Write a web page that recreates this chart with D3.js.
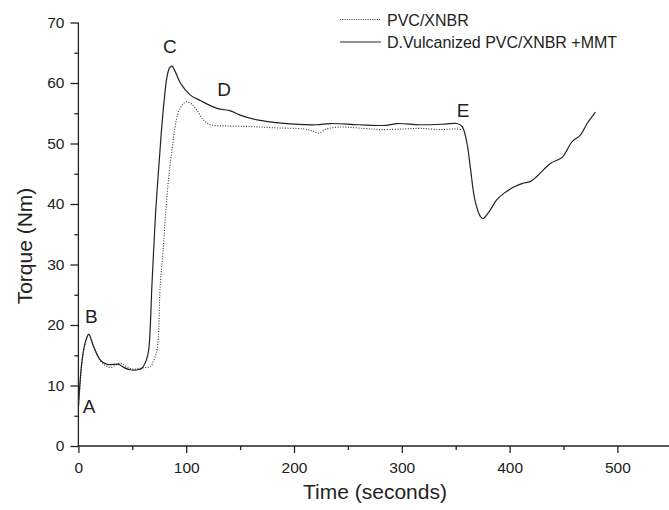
<!DOCTYPE html>
<html><head><meta charset="utf-8">
<script src="https://cdn.jsdelivr.net/npm/d3@7"></script>
<style>body{margin:0;background:#fff}svg{display:block}text{font-family:"Liberation Sans",Arial,sans-serif;fill:#222}</style>
</head><body><div id="chart"></div>
<script>
const seriesNames = ["PVC/XNBR", "D.Vulcanized PVC/XNBR +MMT"];
const pvcTime = [0,3.4,6.5,9.6,14.2,20.4,26,29.7,35,39,44,50,56,63.6,66.8,70,73,76,78.5,80.7,83.8,86.9,89.5,92,95,98,100.8,105,110,116,122.4,138,160,181,209,216.8,223,229,240,264.7,280,301.7,317,335,351,355];
const pvcTorque = [6,13.8,17,18.3,16.3,14.1,13.2,13.0,13.4,13.7,13.2,12.7,12.8,13.0,13.1,14.2,15.9,26.9,32,37.9,44.5,49,52.5,54.8,56,56.7,56.9,56.5,55.5,53.9,53.1,52.9,52.8,52.6,52.4,52.1,51.7,52.3,52.7,52.5,52.3,52.4,52.5,52.3,52.4,52.3];
const mmtTime = [0,3.4,6.5,9.6,14.2,20.4,26.6,37.4,42,48,55,59,63,65.2,68.3,71.4,74.5,77,79.5,82,84.5,86.9,90,94.6,103.9,113,128.7,141,150,165.8,181,200,221,234,260,286,295.6,317,340,351,356,360.5,363.6,368,373,375.4,382,388,395,403.9,412,419,425,437.8,448.7,458,465.7,471.9,479.6];
const mmtTorque = [6.5,14.2,17.2,18.5,16.4,14.2,13.5,13.5,13.0,12.6,12.6,12.9,14.2,15.9,26.9,37.9,46,52,57,60.8,62.5,62.8,61.8,60,58,57.1,55.8,55.4,54.7,53.9,53.5,53.2,53.1,53.3,53.1,53.0,53.3,53.1,53.2,53.3,52.8,50,46,40.5,37.9,37.6,39,40.7,41.8,42.8,43.4,43.7,44.5,46.7,47.7,50.3,51.4,53.3,55.2];
const xTicks = [0,100,200,300,400,500];
const yTicks = [0,10,20,30,40,50,60,70];
const pointLabels = ["A","B","C","D","E"];
const pointLabelAt = [[4,5.5],[6.1,20.3],[78.5,65],[128.9,57.9],[351,54.4]];

const W = 669, H = 510;
const svg = d3.select("#chart").append("svg").attr("width", W).attr("height", H);
const x = d3.scaleLinear().domain([0, 550]).range([78.4, 671.3]);
const y = d3.scaleLinear().domain([0, 70]).range([446, 22.5]);

const axisColor = "#222";
const font = '"Liberation Sans",Arial,sans-serif';
// minor ticks
svg.append("g").attr("transform", `translate(0,${y(0)})`)
  .call(d3.axisBottom(x).tickValues(d3.range(50, 551, 100)).tickSize(4).tickFormat(""))
  .call(g => g.select(".domain").remove());
svg.append("g").attr("transform", `translate(${x(0)},0)`)
  .call(d3.axisLeft(y).tickValues(d3.range(5, 70, 10)).tickSize(4).tickFormat(""))
  .call(g => g.select(".domain").remove());
// major axes
const gx = svg.append("g").attr("transform", `translate(0,${y(0)})`)
  .call(d3.axisBottom(x).tickValues(xTicks).tickSize(7).tickFormat(d3.format("d")));
gx.select(".domain").attr("d", `M${x(0)},0H${W}`);
gx.selectAll(".tick text").attr("y", 27).attr("dy", 0);
const gy = svg.append("g").attr("transform", `translate(${x(0)},0)`)
  .call(d3.axisLeft(y).tickValues(yTicks).tickSize(8).tickPadding(6));
gy.select(".domain").attr("d", `M0,${y(0)}V${y(70)}`);
svg.selectAll(".tick line, .domain").attr("stroke", axisColor).attr("stroke-width", 1.3);
svg.selectAll(".tick text").attr("font-size", 15.5).attr("fill", "#222").style("font-family", font);

// axis titles
svg.append("text").attr("x", 375).attr("y", 499).attr("text-anchor", "middle")
  .attr("font-size", 21).text("Time (seconds)");
svg.append("text").attr("transform", `translate(32,246) rotate(-90)`).attr("text-anchor", "middle")
  .attr("font-size", 21).text("Torque (Nm)");

// lines
const line = d3.line().x(d => x(d[0])).y(d => y(d[1])).curve(d3.curveCatmullRom.alpha(0.5));
const pvc = pvcTime.map((t, i) => [t, pvcTorque[i]]);
const mmt = mmtTime.map((t, i) => [t, mmtTorque[i]]);
svg.append("path").datum(pvc).attr("d", line).attr("fill", "none")
  .attr("stroke", "#333").attr("stroke-width", 1.1).attr("stroke-dasharray", "1,1.6");
svg.append("path").datum(mmt).attr("d", line).attr("fill", "none")
  .attr("stroke", "#222").attr("stroke-width", 1.2);

// point labels
pointLabels.forEach((l, i) => {
  svg.append("text").attr("x", x(pointLabelAt[i][0])).attr("y", y(pointLabelAt[i][1]))
    .attr("font-size", 19).text(l);
});

// legend
[0, 1].forEach(i => {
  const yy = 19.5 + i * 22.5;
  svg.append("line").attr("x1", 340).attr("x2", 381).attr("y1", yy).attr("y2", yy)
    .attr("stroke", "#222").attr("stroke-width", i ? 1.2 : 1)
    .attr("stroke-dasharray", i ? null : "1,1.3");
  svg.append("text").attr("x", 387).attr("y", yy + 6).attr("font-size", 16).text(seriesNames[i]);
});
</script></body></html>
